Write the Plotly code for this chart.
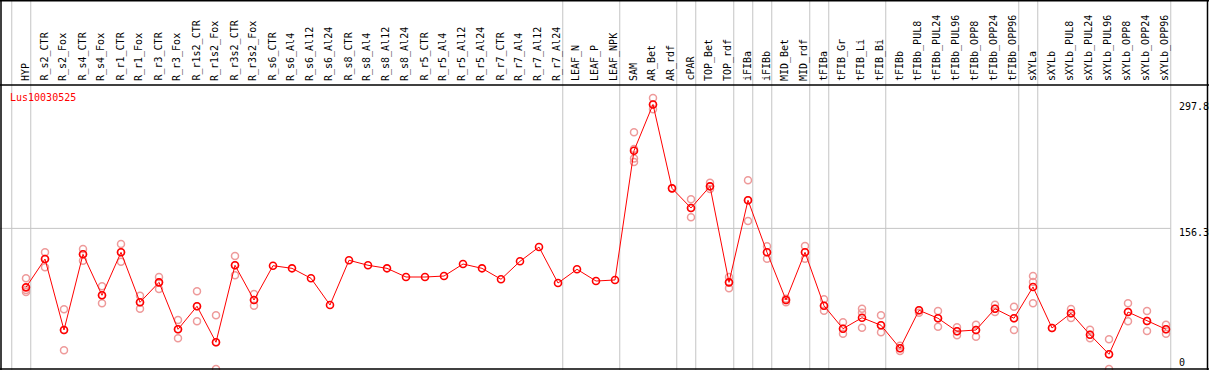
import plotly.graph_objects as go

categories = ["HYP", "R_s2_CTR", "R_s2_Fox", "R_s4_CTR", "R_s4_Fox", "R_r1_CTR", "R_r1_Fox",
              "R_r3_CTR", "R_r3_Fox", "R_r1s2_CTR", "R_r1s2_Fox", "R_r3s2_CTR", "R_r3s2_Fox",
              "R_s6_CTR", "R_s6_Al4", "R_s6_Al12", "R_s6_Al24", "R_s8_CTR", "R_s8_Al4",
              "R_s8_Al12", "R_s8_Al24", "R_r5_CTR", "R_r5_Al4", "R_r5_Al12", "R_r5_Al24",
              "R_r7_CTR", "R_r7_Al4", "R_r7_Al12", "R_r7_Al24", "LEAF_N", "LEAF_P", "LEAF_NPK",
              "SAM", "AR_Bet", "AR_rdf", "cPAR", "TOP_Bet", "TOP_rdf", "iFIBa", "iFIBb",
              "MID_Bet", "MID_rdf", "tFIBa", "tFIB_Gr", "tFIB_Li", "tFIB_Bi", "tFIBb",
              "tFIBb_PUL8", "tFIBb_PUL24", "tFIBb_PUL96", "tFIBb_OPP8", "tFIBb_OPP24",
              "tFIBb_OPP96", "sXYLa", "sXYLb", "sXYLb_PUL8", "sXYLb_PUL24", "sXYLb_PUL96",
              "sXYLb_OPP8", "sXYLb_OPP24", "sXYLb_OPP96"]

mean_values = [89.0, 121.3, 40.3, 126.7, 79.9, 129.0, 71.9, 94.7, 41.1, 67.4, 26.3, 114.2, 74.5,
               113.7, 110.7, 99.3, 68.8, 119.9, 114.2, 110.7, 100.8, 100.8, 101.9, 115.6, 110.7,
               98.2, 118.7, 135.0, 93.9, 109.6, 96.2, 97.4,
               245.0, 297.8, 202.0, 179.6, 204.3, 94.7, 188.4, 129.0, 74.5, 129.0, 68.0, 41.8,
               54.3, 45.7, 19.4, 62.8, 53.7, 38.8, 40.3, 64.6, 53.7, 89.4, 42.6, 59.4, 34.9,
               12.6, 60.8, 50.6, 41.1]

replicates = [[99.3, 86.0, 83.8], [129.0, 111.9, 121.3], [63.9, 17.1, 40.3], [132.8, 119.4, 126.7],
              [90.2, 70.8, 79.9], [138.5, 118.3, 129.0], [79.5, 64.6, 71.9], [100.8, 87.1, 94.7],
              [51.7, 30.8, 41.1], [84.5, 50.2, 67.4], [57.1, -4.2, 26.3], [124.8, 102.7, 114.2],
              [81.4, 68.0, 74.5], [], [], [], [], [], [], [], [], [], [], [], [], [], [], [], [],
              [], [], [],
              [266.0, 247.0, 236.0, 232.0], [305.1, 292.2, 297.8], [202.0], [189.5, 168.9, 179.6],
              [208.4, 201.3, 204.3], [100.8, 87.9, 94.7], [211.2, 164.7, 188.4],
              [135.8, 121.7, 129.0], [71.9, 76.0, 74.5], [136.2, 121.7, 129.0],
              [75.3, 62.3, 68.0], [49.1, 36.1, 41.8], [64.6, 60.0, 42.9], [57.1, 37.7, 45.7],
              [22.4, 16.3, 19.4], [60.0, 62.8], [62.0, 44.1, 53.7], [43.4, 34.2, 38.8],
              [46.3, 32.6, 40.3], [69.2, 60.8, 64.6], [66.9, 40.3, 53.7],
              [101.9, 95.1, 70.8], [42.6], [64.3, 54.0, 59.4], [40.6, 30.8, 34.9],
              [29.7, -4.2, 12.6], [70.8, 50.2, 60.8], [62.0, 39.2, 50.6], [46.3, 36.1, 41.1]]

separators_after = [0, 1, 29, 32, 35, 36, 38, 39, 40, 42, 43, 46, 53, 54, 61]
tick_values = [297.8, 156.3, 0]
tick_labels = ["297.8", "156.3", "0"]
tick_label_shift = [-2.5, -3.7, 3.0]
gene_name = "Lus10030525"

W, H = 1209, 370
FONT = "DejaVu Sans Mono"
x_idx = list(range(1, len(categories) + 1))

# pixel mapping helpers (layout)
x_range = [(0 - 26) / 19 + 1, (W - 26) / 19 + 1]
y_range = [(365.3 - H) / 0.876, 365.3 / 0.876]


def px_x(p):
    return p / W


def px_y(p):
    return 1 - p / H


fig = go.Figure()

rx, ry = [], []
for i, reps in zip(x_idx, replicates):
    for v in reps:
        rx.append(i)
        ry.append(v)

fig.add_trace(go.Scatter(x=rx, y=ry, mode="markers",
                         marker=dict(symbol="circle-open", size=7, color="#ee9a9a",
                                     line=dict(width=1.5, color="#ee9a9a")),
                         hoverinfo="skip", showlegend=False))
fig.add_trace(go.Scatter(x=x_idx, y=mean_values, mode="lines+markers",
                         line=dict(color="#ff0000", width=1),
                         marker=dict(symbol="circle-open", size=7, color="#ff0000",
                                     line=dict(width=1.6, color="#ff0000")),
                         showlegend=False))

shapes = []
gray = "#c4c4c4"
for s in separators_after:
    shapes.append(dict(type="line", xref="x", yref="paper", x0=s + 0.25, x1=s + 0.25,
                       y0=0, y1=1, line=dict(color=gray, width=1), layer="below"))
shapes.append(dict(type="line", xref="paper", yref="y", x0=0,
                   x1=(separators_after[-1] + 0.25 - x_range[0]) / (x_range[1] - x_range[0]),
                   y0=tick_values[1], y1=tick_values[1], line=dict(color=gray, width=1), layer="below"))
# frame and header line
blk = dict(color="black", width=1.5)
shapes.append(dict(type="line", xref="paper", yref="paper", x0=0, x1=1, y0=px_y(85), y1=px_y(85), line=blk))
shapes.append(dict(type="line", xref="paper", yref="paper", x0=0, x1=1, y0=px_y(0.75), y1=px_y(0.75), line=blk))
shapes.append(dict(type="line", xref="paper", yref="paper", x0=0, x1=1, y0=px_y(369), y1=px_y(369), line=blk))
shapes.append(dict(type="line", xref="paper", yref="paper", x0=px_x(1), x1=px_x(1), y0=0, y1=1, line=blk))
shapes.append(dict(type="line", xref="paper", yref="paper", x0=px_x(1207.5), x1=px_x(1207.5), y0=0, y1=1, line=blk))

annotations = []
for i, c in zip(x_idx, categories):
    annotations.append(dict(x=i, y=px_y(83), xref="x", yref="paper", text=c, textangle=-90,
                            showarrow=False, xanchor="center", yanchor="bottom", xshift=-1,
                            font=dict(family=FONT, size=10, color="black")))
annotations.append(dict(x=px_x(8), y=px_y(97), xref="paper", yref="paper", text=gene_name,
                        showarrow=False, xanchor="left", yanchor="middle",
                        font=dict(family=FONT, size=10, color="#ff0000")))
for v, t, sh in zip(tick_values, tick_labels, tick_label_shift):
    annotations.append(dict(x=px_x(1177), y=v, xref="paper", yref="y", text=t,
                            showarrow=False, xanchor="left", yanchor="middle", yshift=sh,
                            font=dict(family=FONT, size=10, color="black")))

fig.update_layout(width=W, height=H, margin=dict(l=0, r=0, t=0, b=0),
                  paper_bgcolor="white", plot_bgcolor="white",
                  xaxis=dict(range=x_range, visible=False, fixedrange=True),
                  yaxis=dict(range=y_range, visible=False, fixedrange=True),
                  shapes=shapes, annotations=annotations)

fig.write_html("out.html", config={"displayModeBar": False},
               post_script="document.body.style.margin='0';document.body.style.overflow='hidden';")
